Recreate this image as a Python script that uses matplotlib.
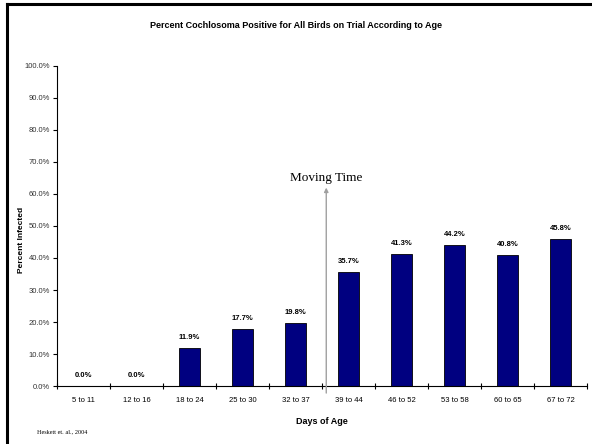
import matplotlib.pyplot as plt
from matplotlib.lines import Line2D

# data
age_groups = ['5 to 11', '12 to 16', '18 to 24', '25 to 30', '32 to 37',
              '39 to 44', '46 to 52', '53 to 58', '60 to 65', '67 to 72']
pct_positive = [0.0, 0.0, 11.9, 17.7, 19.8, 35.7, 41.3, 44.2, 40.8, 45.8]
y_ticks = [0, 10, 20, 30, 40, 50, 60, 70, 80, 90, 100]

narrow = ['Liberation Sans Narrow', 'Liberation Sans', 'DejaVu Sans']
serif = ['Liberation Serif', 'DejaVu Serif']

fig = plt.figure(figsize=(5.92, 4.44), dpi=100)
ax = fig.add_axes([0.0963, 0.1306, 0.8953, 0.7208])

x = list(range(len(age_groups)))
ax.bar(x, pct_positive, width=0.4, color='#000080', edgecolor='black', linewidth=0.6)

# value labels above bars
for xi, v in zip(x, pct_positive):
    ax.text(xi, v + 2.2, f'{v:.1f}%', ha='center', va='bottom',
            fontsize=5.5, fontweight='bold', family=narrow)

ax.set_xlim(-0.5, len(age_groups) - 0.5)
ax.set_ylim(0, 100)
ax.set_yticks(y_ticks)
ax.set_yticklabels([f'{t:.1f}%' for t in y_ticks], fontsize=5.5, family=narrow,
                   color='#333333')
ax.set_xticks(x)
ax.set_xticklabels(age_groups, fontsize=5.5, family=narrow)
ax.set_xticks([i + 0.5 for i in range(-1, len(age_groups))], minor=True)
ax.tick_params(axis='x', which='major', length=0, pad=8)
ax.tick_params(axis='x', which='minor', length=4, direction='inout', width=0.8)
ax.tick_params(axis='y', length=3, direction='out', width=0.8, pad=2)

for side in ['top', 'right']:
    ax.spines[side].set_visible(False)
for side in ['left', 'bottom']:
    ax.spines[side].set_linewidth(0.8)

ax.set_xlabel('Days of Age', fontsize=6.5, fontweight='bold', family=narrow, labelpad=9)
fig.text(0.036, 0.46, 'Percent Infected', rotation=90, ha='center', va='center',
         fontsize=6, fontweight='bold', family=narrow)

# moving time marker
ax.annotate('', xy=(4.58, 62), xytext=(4.58, -2.2), annotation_clip=False,
            arrowprops=dict(arrowstyle='-|>', color='#a0a0a0', lw=1.0,
                            mutation_scale=6, shrinkA=0, shrinkB=0))
ax.text(4.58, 63, 'Moving Time', ha='center', va='bottom', fontsize=9.5, family=serif)

fig.text(0.5, 0.943, 'Percent Cochlosoma Positive for All Birds on Trial According to Age',
         ha='center', va='center', fontsize=6.5, fontweight='bold', family=narrow)
fig.text(0.063, 0.027, 'Heskett et. al., 2004', ha='left', va='center',
         fontsize=4.5, family=serif)

# slide frame on top and left
fig.add_artist(Line2D([0.011, 1.0], [0.99, 0.99], color='black', lw=2.2,
                      transform=fig.transFigure))
fig.add_artist(Line2D([0.012, 0.012], [0.0, 0.991], color='black', lw=2.2,
                      transform=fig.transFigure))

fig.savefig('out.png', dpi=100)
